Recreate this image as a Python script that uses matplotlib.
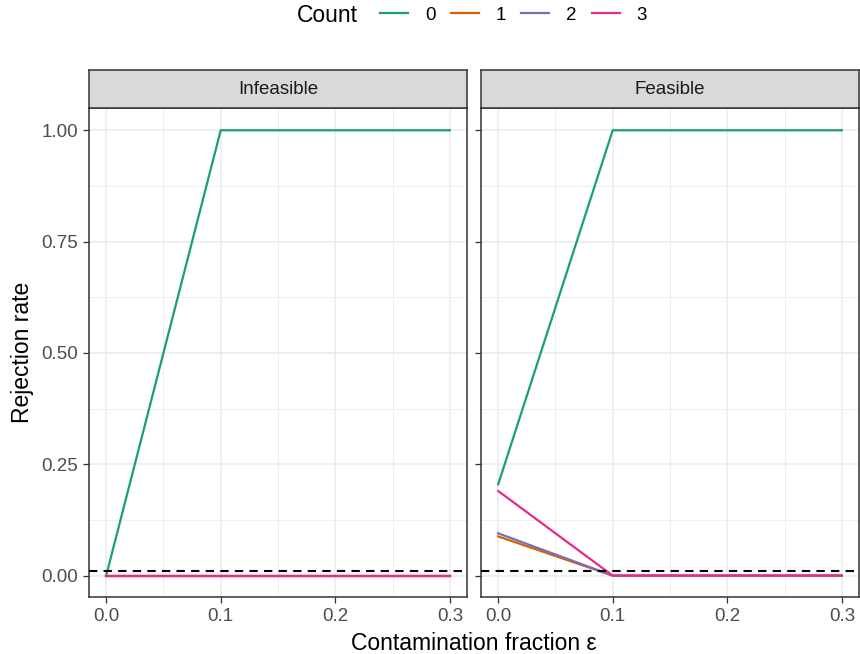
import matplotlib
matplotlib.use("Agg")
import matplotlib.pyplot as plt
from matplotlib.lines import Line2D
from matplotlib.offsetbox import HPacker

eps = [0.0, 0.1, 0.2, 0.3]
counts = ["0", "1", "2", "3"]
colours = ["#1B9E77", "#D95F02", "#7570B3", "#E7298A"]
panels = ["Infeasible", "Feasible"]
rates = {
    "Infeasible": [
        [0.0, 1.0, 1.0, 1.0],
        [0.0, 0.0, 0.0, 0.0],
        [0.0, 0.0, 0.0, 0.0],
        [0.0, 0.0, 0.0, 0.0],
    ],
    "Feasible": [
        [0.205, 1.0, 1.0, 1.0],
        [0.088, 0.0, 0.0, 0.0],
        [0.095, 0.0, 0.0, 0.0],
        [0.19, 0.0, 0.0, 0.0],
    ],
}
alpha_level = 0.011
yticks = [0.0, 0.25, 0.5, 0.75, 1.0]
ytick_labels = ["0.00", "0.25", "0.50", "0.75", "1.00"]
xticks = [0.0, 0.1, 0.2, 0.3]
xtick_labels = ["0.0", "0.1", "0.2", "0.3"]

W, H = 860, 654
plt.rcParams["font.family"] = ["Liberation Sans", "DejaVu Sans"]
fig = plt.figure(figsize=(W / 100, H / 100), dpi=100)


def px(x0, y0, x1, y1):
    # pixel box (top-left origin) -> figure fraction rect
    return [x0 / W, 1 - y1 / H, (x1 - x0) / W, (y1 - y0) / H]


lefts = [89, 481]
for i, name in enumerate(panels):
    x0 = lefts[i]
    ax = fig.add_axes(px(x0, 108, x0 + 378, 597))
    for k, c in enumerate(counts):
        ax.plot(eps, rates[name][k], color=colours[k], lw=1.6, zorder=3)
    ax.axhline(alpha_level, color="black", ls=(0, (4, 3)), lw=1.5, zorder=4)
    ax.set_xlim(-0.015, 0.315)
    ax.set_ylim(-0.048, 1.05)
    ax.set_xticks(xticks)
    ax.set_xticklabels(xtick_labels)
    ax.set_xticks([0.05, 0.15, 0.25], minor=True)
    ax.set_yticks(yticks)
    ax.set_yticks([0.125, 0.375, 0.625, 0.875], minor=True)
    if i == 0:
        ax.set_yticklabels(ytick_labels)
    else:
        ax.set_yticklabels([])
        ax.tick_params(axis="y", which="both", length=0)
    ax.grid(True, which="major", color="#EBEBEB", lw=1.1)
    ax.grid(True, which="minor", color="#EBEBEB", lw=0.6)
    ax.set_axisbelow(True)
    ax.tick_params(which="major", labelsize=13.5, colors="#333333",
                   length=4, width=0.9, pad=4)
    ax.tick_params(which="minor", length=0)
    ax.tick_params(labelcolor="#4D4D4D")
    for s in ax.spines.values():
        s.set_color("#333333")
        s.set_linewidth(1.1)

    sax = fig.add_axes(px(x0, 70, x0 + 378, 108))
    sax.set_xticks([])
    sax.set_yticks([])
    sax.set_facecolor("#D9D9D9")
    for s in sax.spines.values():
        s.set_color("#333333")
        s.set_linewidth(1.1)
    sax.text(0.5, 0.5, name, ha="center", va="center", fontsize=13.5,
             color="#1A1A1A", transform=sax.transAxes)

fig.text(474 / W, 1 - 643 / H, "Contamination fraction ε", ha="center",
         va="center", fontsize=16.5)
fig.text(22 / W, 1 - 352 / H, "Rejection rate", ha="center", va="center",
         rotation=90, fontsize=16.5)

handles = [Line2D([], [], color=c, lw=1.6) for c in colours]
leg = fig.legend(handles, counts, title="Count", loc="center",
                 bbox_to_anchor=(472 / W, 1 - 15 / H), ncol=4, frameon=False,
                 fontsize=13.5, title_fontsize=16.5, handlelength=1.5,
                 columnspacing=0.8, handletextpad=0.9)
# title on the left of the keys, like ggplot's top legend
title = leg._legend_title_box
body = leg._legend_handle_box
leg._legend_box._children = [HPacker(pad=0, sep=16, children=[title, body],
                                     align="center")]

fig.savefig("out.png", dpi=100)
